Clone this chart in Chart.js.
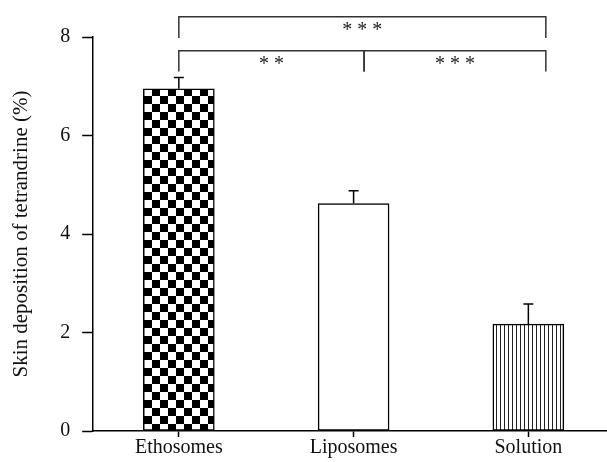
<!DOCTYPE html>
<html>
<head>
<meta charset="utf-8">
<script src="https://cdn.jsdelivr.net/npm/chart.js@4"></script>
<style>
  html, body { margin: 0; padding: 0; background: #fff; }
  #wrap { width: 607px; height: 462px; }
</style>
</head>
<body>
<div id="wrap"><canvas id="myChart"></canvas></div>
<script>
const categories = ['Ethosomes', 'Liposomes', 'Solution'];
const values = [6.95, 4.62, 2.17];
const errors = [0.23, 0.26, 0.41];
const yTicks = [0, 2, 4, 6, 8];

// significance brackets: from category, to category, label, height
const brackets = [
  { from: 1, to: 3.1, label: '* * *', y: 8.41, drop: 0.43 },
  { from: 1, to: 2.06, label: '* *', y: 7.72, drop: 0.42 },
  { from: 2.06, to: 3.1, label: '* * *', y: 7.72, drop: 0.42 }
];

const serif = '"Liberation Serif", "DejaVu Serif", serif';

function checker() {
  let c = document.createElement('canvas');
  c.width = 16; c.height = 16;
  let g = c.getContext('2d');
  g.fillStyle = '#fff'; g.fillRect(0, 0, 16, 16);
  g.fillStyle = '#000';
  g.fillRect(0, 0, 8, 8);
  g.fillRect(8, 8, 8, 8);
  return g.createPattern(c, 'repeat');
}

function stripes() {
  let c = document.createElement('canvas');
  c.width = 4; c.height = 4;
  let g = c.getContext('2d');
  g.fillStyle = '#fff'; g.fillRect(0, 0, 4, 4);
  g.fillStyle = '#222';
  g.fillRect(0, 0, 1, 4);
  return g.createPattern(c, 'repeat');
}

const points = values.map((v, i) => ({ x: i + 1, y: v }));

const extras = {
  id: 'extras',
  afterDatasetsDraw(chart) {
    const ctx = chart.ctx;
    const xs = chart.scales.x, ys = chart.scales.y;
    ctx.save();
    // error bars (upper only)
    ctx.strokeStyle = '#000';
    ctx.lineWidth = 1.5;
    values.forEach((v, i) => {
      const px = xs.getPixelForValue(i + 1);
      const top = ys.getPixelForValue(v + errors[i]);
      const base = ys.getPixelForValue(v);
      ctx.beginPath();
      ctx.moveTo(px, base);
      ctx.lineTo(px, top);
      ctx.moveTo(px - 5, top);
      ctx.lineTo(px + 5, top);
      ctx.stroke();
    });
    // brackets
    ctx.strokeStyle = '#333';
    ctx.fillStyle = '#222';
    ctx.font = '20px ' + serif;
    ctx.textAlign = 'center';
    ctx.textBaseline = 'middle';
    brackets.forEach(b => {
      const x1 = xs.getPixelForValue(b.from);
      const x2 = xs.getPixelForValue(b.to);
      const y = ys.getPixelForValue(b.y);
      const y2 = ys.getPixelForValue(b.y - b.drop);
      ctx.beginPath();
      ctx.moveTo(x1, y2);
      ctx.lineTo(x1, y);
      ctx.lineTo(x2, y);
      ctx.lineTo(x2, y2);
      ctx.stroke();
      ctx.fillText(b.label, (x1 + x2) / 2, y + 14);
    });
    ctx.restore();
  }
};

const config = {
  type: 'bar',
  data: {
    datasets: [{
      data: points,
      backgroundColor: [checker(), '#fff', stripes()],
      borderColor: '#000',
      borderWidth: 1.5,
      borderSkipped: false,
      barThickness: 71
    }]
  },
  options: {
    responsive: true,
    maintainAspectRatio: false,
    animation: false,
    layout: { padding: { top: 37, right: 0, bottom: 3, left: 9 } },
    plugins: {
      legend: { display: false },
      tooltip: { enabled: false }
    },
    scales: {
      x: {
        type: 'linear',
        offset: false,
        min: 0.51,
        max: 3.45,
        afterBuildTicks: (axis) => { axis.ticks = categories.map((c, i) => ({ value: i + 1 })); },
        ticks: {
          callback: (v) => categories[v - 1],
          color: '#111',
          font: { family: serif, size: 20 },
          padding: -1,
          maxRotation: 0
        },
        grid: { offset: false, drawOnChartArea: false, tickLength: 6, tickColor: '#000', tickWidth: 1.5 },
        border: { color: '#000', width: 1.5 }
      },
      y: {
        min: 0,
        max: 8,
        afterBuildTicks: (axis) => { axis.ticks = yTicks.map(v => ({ value: v })); },
        ticks: {
          color: '#111',
          font: { family: serif, size: 20 },
          padding: 12
        },
        grid: { drawOnChartArea: false, tickLength: 11, tickColor: '#000', tickWidth: 1.5 },
        border: { color: '#000', width: 1.5 },
        title: {
          display: true,
          text: 'Skin deposition of tetrandrine (%)',
          color: '#111',
          font: { family: serif, size: 21 },
          padding: { top: 0, bottom: 14 }
        }
      }
    }
  },
  plugins: [extras]
};

new Chart(document.getElementById('myChart'), config);
</script>
</body>
</html>
